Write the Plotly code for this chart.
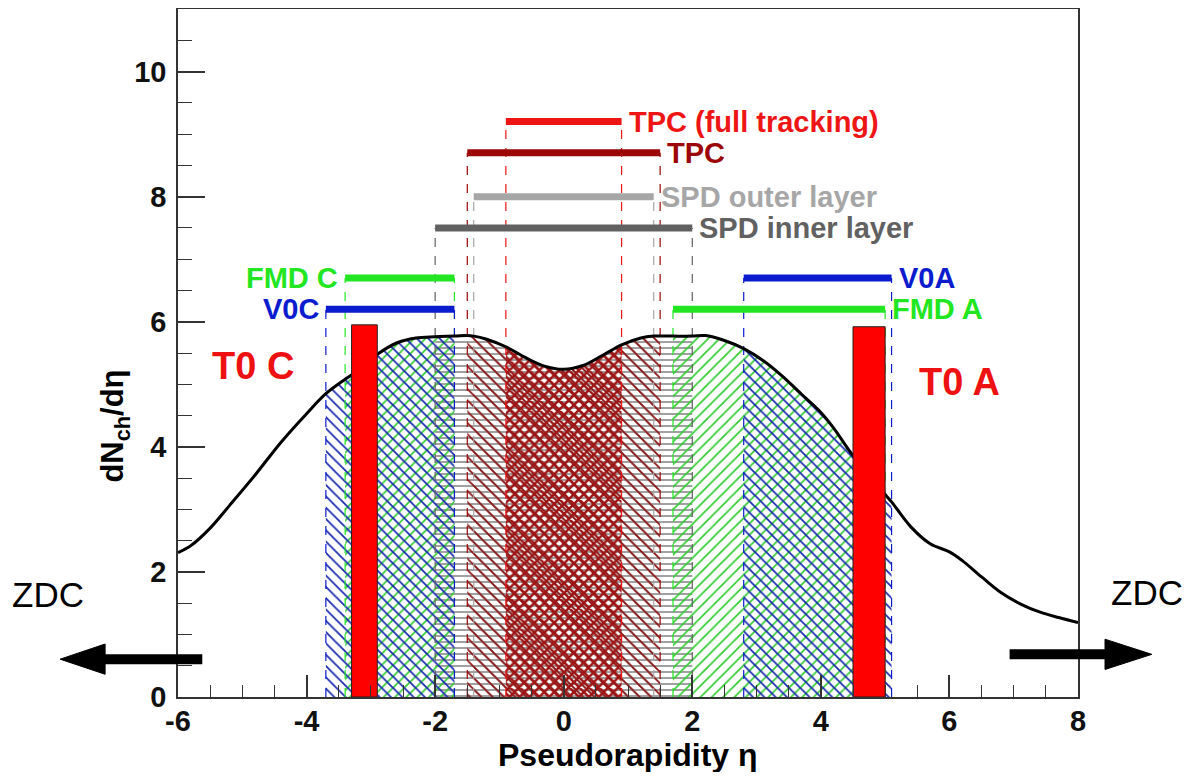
import plotly.graph_objects as go

# ---- data ----
eta = [-6.0, -5.8, -5.5, -5.2, -4.8, -4.4, -4.0, -3.7, -3.4, -3.3, -3.0, -2.9,
       -2.6, -2.3, -2.0, -1.7, -1.5, -1.4, -1.2, -0.9, -0.6, -0.3, 0.0, 0.3,
       0.6, 0.9, 1.2, 1.4, 1.5, 1.7, 2.0, 2.2, 2.5, 2.8, 3.1, 3.4, 3.7, 4.0,
       4.2, 4.5, 4.8, 5.0, 5.1, 5.4, 5.7, 6.0, 6.2, 6.5, 6.8, 7.1, 7.4, 7.7, 8.0]
dndeta = [2.31, 2.42, 2.70, 3.06, 3.55, 4.07, 4.53, 4.85, 5.08, 5.15, 5.40, 5.48,
          5.66, 5.74, 5.76, 5.77, 5.78, 5.77, 5.72, 5.60, 5.43, 5.29, 5.24, 5.30,
          5.46, 5.63, 5.74, 5.77, 5.77, 5.77, 5.77, 5.78, 5.70, 5.57, 5.38, 5.13, 4.84, 4.55,
          4.30, 3.86, 3.52, 3.24, 3.12, 2.72, 2.45, 2.32, 2.18, 1.92, 1.67, 1.49, 1.36, 1.27, 1.19]

det_names = ["SPD inner layer", "SPD outer layer", "TPC", "TPC (full tracking)",
             "FMD C", "V0C", "FMD A", "V0A"]
det_lo = [-2.0, -1.4, -1.5, -0.9, -3.4, -3.7, 1.7, 2.8]
det_hi = [2.0, 1.4, 1.5, 0.9, -1.7, -1.7, 5.0, 5.1]
det_level = [7.5, 8.0, 8.7, 9.2, 6.7, 6.2, 6.2, 6.7]
det_color = ["#616161", "#a6a6a6", "#9c0606", "#ee1515",
             "#22e622", "#0b1ccf", "#22e622", "#0b1ccf"]
det_fill_color = ["#707070", "#a0a0a0", "#8a1010", "#9e1414",
                  "#33cc33", "#1a2ab0", "#33cc33", "#1a2ab0"]
det_pattern = ["-", "\\", "\\", "x", "/", "\\", "/", "\\"]
det_pat_size = [6, 8, 8, 7, 8, 8, 8, 8]
det_label_side = ["right", "right", "right", "right", "left", "left", "right", "right"]

t0_names = ["T0 C", "T0 A"]
t0_lo = [-3.3, 4.5]
t0_hi = [-2.9, 5.0]
t0_top = [5.95, 5.92]
t0_label_x = [-4.83, 6.16]
t0_label_y = [5.3, 5.03]

xticks = [-6, -4, -2, 0, 2, 4, 6, 8]
xticklabels = ["-6", "-4", "-2", "0", "2", "4", "6", "8"]
yticks = [0, 2, 4, 6, 8, 10]
yticklabels = ["0", "2", "4", "6", "8", "10"]

FONT = "Liberation Sans, Arial, sans-serif"

fig = go.Figure()

# hatched acceptance regions under the curve
for i, name in enumerate(det_names):
    sel = [k for k, e in enumerate(eta) if det_lo[i] - 1e-9 <= e <= det_hi[i] + 1e-9]
    xs = [eta[k] for k in sel]
    ys = [dndeta[k] for k in sel]
    fig.add_trace(go.Scatter(
        x=xs, y=ys, mode="lines", line=dict(width=0, shape="spline"),
        fill="tozeroy", fillcolor="rgba(0,0,0,0)",
        fillpattern=dict(shape=det_pattern[i], fgcolor=det_fill_color[i],
                         bgcolor="rgba(0,0,0,0)", size=det_pat_size[i],
                         solidity=0.22 if det_pattern[i] != "x" else 0.6,
                         fillmode="replace"),
        hoverinfo="skip", showlegend=False))

# dashed vertical lines from acceptance bars
for i, name in enumerate(det_names):
    fig.add_trace(go.Scatter(
        x=[det_lo[i], det_lo[i], None, det_hi[i], det_hi[i]],
        y=[0, det_level[i], None, 0, det_level[i]],
        mode="lines", line=dict(color=det_color[i], width=1.2, dash="dash"),
        hoverinfo="skip", showlegend=False))

# dN/deta curve
fig.add_trace(go.Scatter(x=eta, y=dndeta, mode="lines",
                         line=dict(color="black", width=3, shape="spline"),
                         showlegend=False))

# T0 detectors
for i, name in enumerate(t0_names):
    fig.add_trace(go.Scatter(
        x=[t0_lo[i], t0_lo[i], t0_hi[i], t0_hi[i], t0_lo[i]],
        y=[0, t0_top[i], t0_top[i], 0, 0],
        mode="lines", fill="toself", fillcolor="#ff0000",
        line=dict(color="#222222", width=1), showlegend=False))

# acceptance bars
for i, name in enumerate(det_names):
    fig.add_trace(go.Scatter(
        x=[det_lo[i], det_hi[i]], y=[det_level[i], det_level[i]],
        mode="lines", line=dict(color=det_color[i], width=7),
        showlegend=False))

annotations = []
for i, name in enumerate(det_names):
    right = det_label_side[i] == "right"
    annotations.append(dict(x=det_hi[i] + 0.08 if right else det_lo[i] - 0.08,
                            y=det_level[i], xref="x", yref="y",
                            text=name, xanchor="left" if right else "right",
                            yanchor="middle", showarrow=False,
                            font=dict(family=FONT, size=29, color=det_color[i], weight="bold")))
for i, name in enumerate(t0_names):
    annotations.append(dict(x=t0_label_x[i], y=t0_label_y[i], xref="x", yref="y",
                            text=name, showarrow=False, xanchor="center", yanchor="middle",
                            font=dict(family=FONT, size=38, color="#ee1111", weight="bold")))

# ZDC labels
annotations.append(dict(x=-0.144, y=0.149, xref="paper", yref="paper", text="ZDC",
                        xanchor="center", yanchor="middle",
                        showarrow=False, font=dict(family=FONT, size=35, color="black")))
annotations.append(dict(x=1.077, y=0.152, xref="paper", yref="paper", text="ZDC",
                        xanchor="center", yanchor="middle",
                        showarrow=False, font=dict(family=FONT, size=35, color="black")))
# axis titles
annotations.append(dict(x=-0.070, y=0.393, xref="paper", yref="paper",
                        text="dN<sub>ch</sub>/dη", textangle=-90, showarrow=False,
                        xanchor="center", yanchor="middle",
                        font=dict(family=FONT, size=31, color="black", weight="bold")))
annotations.append(dict(x=0.5, y=-0.085, xref="paper", yref="paper",
                        text="Pseudorapidity η", showarrow=False,
                        xanchor="center", yanchor="middle",
                        font=dict(family=FONT, size=32, color="black", weight="bold")))

# ZDC arrows (paper coordinates)
shapes = []
ay_l = 0.055
ay_r = 0.062
hh = 0.022
shapes.append(dict(type="line", xref="paper", yref="paper", x0=0.027, x1=-0.09, y0=ay_l, y1=ay_l,
                   line=dict(color="black", width=10)))
shapes.append(dict(type="path", xref="paper", yref="paper",
                   path=f"M -0.131 {ay_l} L -0.081 {ay_l+hh} L -0.081 {ay_l-hh} Z",
                   fillcolor="black", line=dict(color="black", width=1)))
shapes.append(dict(type="line", xref="paper", yref="paper", x0=0.924, x1=1.035, y0=ay_r, y1=ay_r,
                   line=dict(color="black", width=10)))
shapes.append(dict(type="path", xref="paper", yref="paper",
                   path=f"M 1.082 {ay_r} L 1.030 {ay_r+hh} L 1.030 {ay_r-hh} Z",
                   fillcolor="black", line=dict(color="black", width=1)))

axis_common = dict(showgrid=False, zeroline=False, showline=True, linecolor="#333333",
                   linewidth=1.5, mirror=True, ticks="inside", tickcolor="#333333",
                   tickwidth=1.5,
                   tickfont=dict(family=FONT, size=29, color="#111111", weight="bold"))

fig.update_layout(
    width=1175, height=764,
    margin=dict(l=170, r=105, t=1, b=75),
    paper_bgcolor="white", plot_bgcolor="white",
    template="none",
    xaxis=dict(range=[-6, 8], tickvals=xticks, ticktext=xticklabels, ticklen=22,
               ticklabelstandoff=-3,
               minor=dict(dtick=0.5, tick0=0, ticks="inside", ticklen=12, tickcolor="#333333", tickwidth=1.2),
               **axis_common),
    yaxis=dict(range=[0, 11], tickvals=yticks, ticktext=yticklabels, ticklen=27,
               ticklabelstandoff=4,
               minor=dict(dtick=0.5, tick0=0, ticks="inside", ticklen=14, tickcolor="#333333", tickwidth=1.2),
               **axis_common),
    annotations=annotations,
    shapes=shapes,
)

fig.write_html("out.html")
